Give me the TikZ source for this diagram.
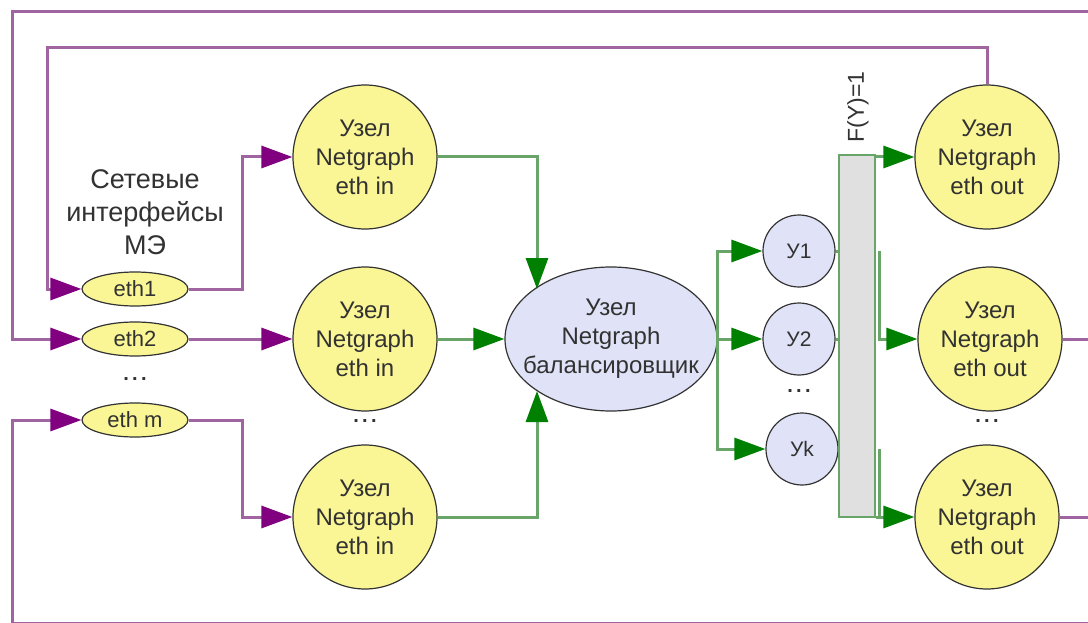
\documentclass[tikz,border=0pt]{standalone}
\usepackage{fontspec}
\setmainfont{Liberation Sans}
\usetikzlibrary{arrows.meta,shapes.geometric}
\definecolor{yfill}{RGB}{250,246,150}
\definecolor{lfill}{RGB}{224,227,247}
\definecolor{plinec}{RGB}{160,100,160}
\definecolor{ptip}{RGB}{128,0,128}
\definecolor{glinec}{RGB}{105,165,105}
\definecolor{gtip}{RGB}{0,128,0}
\definecolor{txt}{RGB}{50,50,50}
\definecolor{barfill}{RGB}{224,224,224}
\begin{document}
\begin{tikzpicture}[x=1pt,y=-1pt,
 bignode/.style={circle,draw=black!80,line width=1.2pt,fill=yfill,minimum size=144pt,inner sep=0pt,align=center,font=\fontsize{24}{29}\selectfont,text=txt},
 ethnode/.style={ellipse,draw=black!80,line width=1.2pt,fill=yfill,minimum width=106pt,minimum height=34pt,inner sep=0pt,font=\fontsize{22}{24}\selectfont,text=txt},
 ynode/.style={circle,draw=black!80,line width=1.2pt,fill=lfill,minimum size=72pt,inner sep=0pt,font=\fontsize{21}{24}\selectfont,text=txt},
 balnode/.style={ellipse,draw=black!80,line width=1.2pt,fill=lfill,minimum width=212pt,minimum height=144pt,inner xsep=-20pt,inner ysep=0pt,align=center,font=\fontsize{24}{29}\selectfont,text=txt},
 barnode/.style={rectangle,draw=glinec,line width=2pt,fill=barfill,minimum width=36pt,minimum height=362pt,inner sep=0pt},
 pcon/.style={draw=plinec,line width=3pt},
 parr/.style={pcon,-{Triangle[length=31pt,width=22pt,color=ptip]}},
 gcon/.style={draw=glinec,line width=3pt},
 garr/.style={gcon,-{Triangle[length=31pt,width=22pt,color=gtip]}},
 dotsnode/.style={font=\bfseries\fontsize{20}{24}\selectfont,text=txt},
 labelnode/.style={align=center,font=\fontsize{27}{33}\selectfont,text=txt},
 ]
\useasboundingbox[fill=white] (0,0) rectangle (1088,623);

% nodes
\node[bignode] (in1) at (365,157) {Узел\\Netgraph\\eth in};
\node[bignode] (in2) at (365,339) {Узел\\Netgraph\\eth in};
\node[bignode] (in3) at (365,517) {Узел\\Netgraph\\eth in};
\node[bignode] (out1) at (987,157) {Узел\\Netgraph\\eth out};
\node[bignode] (out2) at (990,339) {Узел\\Netgraph\\eth out};
\node[bignode] (out3) at (987,517) {Узел\\Netgraph\\eth out};
\node[ethnode] (eth1) at (135,289) {eth1};
\node[ethnode] (eth2) at (135,339) {eth2};
\node[ethnode] (ethm) at (135,420) {eth m};
\node[balnode] (bal) at (611,339) {Узел\\Netgraph\\балансировщик};
\node[ynode] (y1) at (799,251) {У1};
\node[ynode] (y2) at (799,339) {У2};
\node[ynode] (yk) at (802,449) {Уk};
\node[barnode] (bar) at (857,336) {};
\node[rotate=90,anchor=west,font=\fontsize{23}{26}\selectfont,text=txt] (fy) at (858,146) {F(Y)=1};
\node[labelnode] (lbl) at (145,212) {Сетевые\\интерфейсы\\МЭ};
\node[dotsnode] (d1) at (135,379) {.\,.\,.};
\node[dotsnode] (d2) at (365,421) {.\,.\,.};
\node[dotsnode] (d3) at (799,391) {.\,.\,.};
\node[dotsnode] (d4) at (987,421) {.\,.\,.};

% coordinates
\coordinate (ctr) at (1088,12);
\coordinate (ctl) at (12,12);
\coordinate (cil) at (47,48);
\coordinate (cbr) at (1088,623);
\coordinate (cbl) at (12,623);
\coordinate (c1) at (242,157);
\coordinate (c3) at (242,517);
\coordinate (r2) at (1088,339);
\coordinate (r3) at (1088,517);
\coordinate (b1) at (537,289);
\coordinate (b3) at (537,391);

% purple connectors
\draw[parr] (ctr) -- (ctl) |- (eth2.west);
\draw[parr] (out1.north) |- (cil) |- (eth1.west);
\draw[parr] (cbr) -- (cbl) |- (ethm.west);
\draw[parr] (eth1.east) -| (c1) -- (in1.west);
\draw[parr] (eth2.east) -- (in2.west);
\draw[parr] (ethm.east) -| (c3) -- (in3.west);
\draw[pcon] (out2.east) -- (r2);
\draw[pcon] (out3.east) -- (r3);

% green connectors
\draw[garr] (in1.east) -| (b1);
\draw[garr] (in2.east) -- (bal.west);
\draw[garr] (in3.east) -| (b3);
\draw[garr] (bal.east) |- (y1.west);
\draw[garr] (bal.east) -- (y2.west);
\draw[garr] (bal.east) |- (yk.west);
\draw[gcon] (y1.east) -- (y1.east -| bar.west);
\draw[gcon] (y2.east) -- (y2.east -| bar.west);
\draw[gcon] (yk.east) -- (yk.east -| bar.west);
\draw[garr] (out1.west -| bar.east) -- (out1.west);
\draw[garr] ([xshift=3pt]y1.east -| bar.east) -- ([xshift=3pt]out2.west -| bar.east) -- (out2.west);
\draw[gcon] ([xshift=3pt]yk.east -| bar.east) -- ([xshift=3pt]out3.west -| bar.east);
\draw[garr] (out3.west -| bar.east) -- (out3.west);
\end{tikzpicture}
\end{document}
